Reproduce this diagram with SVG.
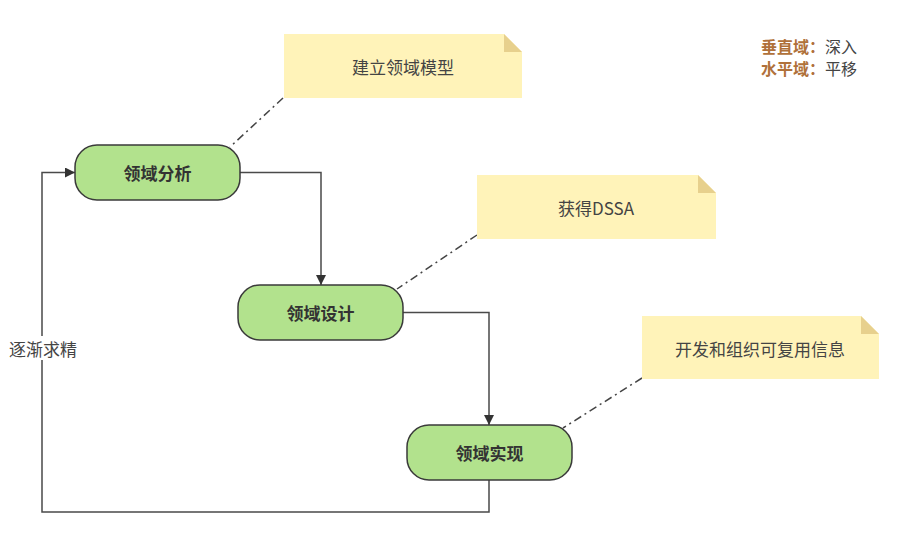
<svg xmlns="http://www.w3.org/2000/svg" width="924" height="537" viewBox="0 0 924 537">
<defs>
<style>
.node rect{fill:#b2e28d;stroke:#3a3a3a;stroke-width:1.5}
.node text{font-family:"Noto Sans CJK SC","Liberation Sans",sans-serif;font-size:17px;font-weight:bold;fill:#333;text-anchor:middle;dominant-baseline:central}
.note .body{fill:#fff3b9}
.note .fold{fill:#e7d08d}
.note text{font-family:"Noto Sans CJK SC","Liberation Sans",sans-serif;font-size:17px;fill:#444;text-anchor:middle;dominant-baseline:central}
.edge{fill:none;stroke:#4a4a4a;stroke-width:1.5}
.dash{fill:none;stroke:#444;stroke-width:1.5;stroke-dasharray:8 4 2 4}
.lbl{font-family:"Noto Sans CJK SC","Liberation Sans",sans-serif;font-size:17px;fill:#444}
.legk{font-family:"Noto Sans CJK SC","Liberation Sans",sans-serif;font-size:16px;font-weight:bold;fill:#b0713a}
.legv{font-family:"Noto Sans CJK SC","Liberation Sans",sans-serif;font-size:16px;fill:#444}
</style>
<marker id="arr" viewBox="0 0 10 10" refX="10" refY="5" markerWidth="10" markerHeight="10" markerUnits="userSpaceOnUse" orient="auto">
<path d="M0,0 L10,5 L0,10 Z" fill="#333"/>
</marker>
</defs>
<rect width="924" height="537" fill="#fff"/>
<g id="connectors">
<path class="edge" d="M240,172.5 H321 V285" marker-end="url(#arr)"/>
<path class="edge" d="M403,312.5 H489 V425" marker-end="url(#arr)"/>
<path class="edge" d="M489,480 V512 H42 V172.5 H75" marker-end="url(#arr)"/>
<rect x="6" y="336" width="74" height="24" fill="#fff"/>
<text class="lbl" x="43" y="348" text-anchor="middle" dominant-baseline="central">逐渐求精</text>
<path class="dash" d="M283,98 L230,147"/>
<path class="dash" d="M477,235 L397,289"/>
<path class="dash" d="M642,378 L563,428"/>
</g>
<g id="node-analysis" class="node">
<rect x="75" y="145" width="165" height="55" rx="22"/>
<text x="157.5" y="172.5">领域分析</text>
</g>
<g id="node-design" class="node">
<rect x="238" y="285" width="165" height="55" rx="22"/>
<text x="320.5" y="312.5">领域设计</text>
</g>
<g id="node-impl" class="node">
<rect x="407" y="425" width="165" height="55" rx="22"/>
<text x="489.5" y="452.5">领域实现</text>
</g>
<g id="note-model" class="note">
<path class="body" d="M284,34 H504 L522,52 V98 H284 Z"/>
<path class="fold" d="M504,34 L522,52 H504 Z"/>
<text x="403" y="66">建立领域模型</text>
</g>
<g id="note-dssa" class="note">
<path class="body" d="M477,175 H698 L716,193 V239 H477 Z"/>
<path class="fold" d="M698,175 L716,193 H698 Z"/>
<text x="596" y="207">获得DSSA</text>
</g>
<g id="note-reuse" class="note">
<path class="body" d="M642,316 H861 L879,334 V379 H642 Z"/>
<path class="fold" d="M861,316 L879,334 H861 Z"/>
<text x="760" y="348">开发和组织可复用信息</text>
</g>
<g id="legend">
<text x="761" y="53"><tspan class="legk">垂直域：</tspan><tspan class="legv">深入</tspan></text>
<text x="761" y="75"><tspan class="legk">水平域：</tspan><tspan class="legv">平移</tspan></text>
</g>
</svg>
